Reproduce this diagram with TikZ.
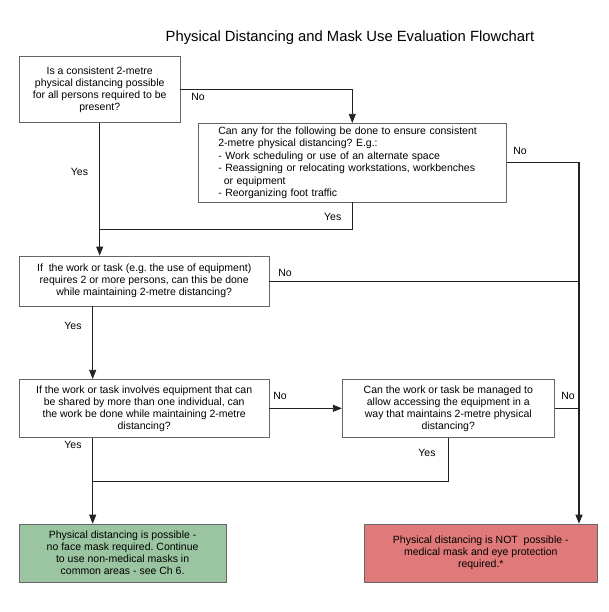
\documentclass[tikz,border=0pt]{standalone}
\usepackage{fontspec}
\setmainfont{Liberation Sans}
\usetikzlibrary{arrows.meta}
\definecolor{boxline}{HTML}{666666}
\definecolor{connc}{HTML}{222222}
\definecolor{okfill}{HTML}{9BC5A0}
\definecolor{nofill}{HTML}{E07A7A}
\frenchspacing
\begin{document}
\begin{tikzpicture}[x=1pt,y=-1pt,
  qbox/.style={draw=boxline, line width=0.8pt, inner sep=0pt, align=center, font=\fontsize{10.5}{12}\selectfont},
  lbl/.style={font=\fontsize{10.5}{12}\selectfont, inner sep=0pt},
  conn/.style={draw=connc, line width=0.8pt},
  arr/.style={conn, -{Triangle[length=9pt,width=7pt]}}]
\useasboundingbox (0,0) rectangle (608,612);
\fill[white] (0,0) rectangle (608,612);

\node[font=\fontsize{14.8}{17}\selectfont, inner sep=0pt] (title) at (350,38) {Physical Distancing and Mask Use Evaluation Flowchart};

\node[qbox, minimum width=160.7pt, minimum height=66pt] (b1) at (99.7,89.7)
  {Is a consistent 2-metre\\physical distancing possible\\for all persons required to be\\present?};
\node[qbox, minimum width=308pt, minimum height=78.7pt, text width=268pt, align=left, font=\fontsize{10.5}{12.5}\selectfont] (b2) at (352.3,162.7)
  {Can any for the following be done to ensure consistent\\2-metre physical distancing? E.g.:\\- Work scheduling or use of an alternate space\\- Reassigning or relocating workstations, workbenches\\\hspace*{5.5pt}or equipment\\- Reorganizing foot traffic};
\node[qbox, minimum width=249.5pt, minimum height=50pt] (b3) at (144.2,281)
  {If~ the work or task (e.g. the use of equipment)\\requires 2 or more persons, can this be done\\while maintaining 2-metre distancing?};
\node[qbox, minimum width=249.7pt, minimum height=58pt] (b4) at (144.2,408.3)
  {If the work or task involves equipment that can\\be shared by more than one individual, can\\the work be done while maintaining 2-metre\\distancing?};
\node[qbox, minimum width=212pt, minimum height=58pt] (b5) at (448.3,408.3)
  {Can the work or task be managed to\\allow accessing the equipment in a\\way that maintains 2-metre physical\\distancing?};
\node[qbox, fill=okfill, minimum width=206.7pt, minimum height=58.3pt] (ok) at (122.6,553.2)
  {Physical distancing is possible -\\no face mask required. Continue\\to use non-medical masks in\\common areas - see Ch 6.};
\node[qbox, fill=nofill, minimum width=233.7pt, minimum height=58.3pt] (no) at (480.8,553.2)
  {Physical distancing is NOT~ possible -\\medical mask and eye protection\\required.*};

\coordinate (lx) at (92.7,0);
\coordinate (rx) at (579,0);
\coordinate (jtop) at (0,229.3);
\coordinate (jbot) at (0,481);

\draw[arr] (b1.east) -| (b2.north);
\draw[arr] (b1.south) -- (b1.south |- b3.north);
\draw[conn] (b2.south) |- (b1.south |- jtop);
\draw[arr, line width=1.1pt] (b2.east) -| (rx |- no.north);
\draw[conn] (b3.east) -- (b3.east -| rx);
\draw[arr] (b3.south -| lx) -- (b4.north -| lx);
\draw[arr] (b4.east) -- (b5.west);
\draw[conn] (b5.east) -- (b5.east -| rx);
\draw[arr] (b4.south -| lx) -- (ok.north -| lx);
\draw[conn] (b5.south) |- (lx |- jbot);

\node[lbl] (no1) at (198,97.3) {No};
\node[lbl] (yes1) at (79.5,172.3) {Yes};
\node[lbl] (no2) at (520,150.7) {No};
\node[lbl] (yes2) at (332.7,216.5) {Yes};
\node[lbl] (no3) at (285,273) {No};
\node[lbl] (yes3) at (73,326) {Yes};
\node[lbl] (no4) at (280,396) {No};
\node[lbl] (no5) at (568,396) {No};
\node[lbl] (yes4) at (73,445.3) {Yes};
\node[lbl] (yes5) at (427,453.3) {Yes};
\end{tikzpicture}
\end{document}
